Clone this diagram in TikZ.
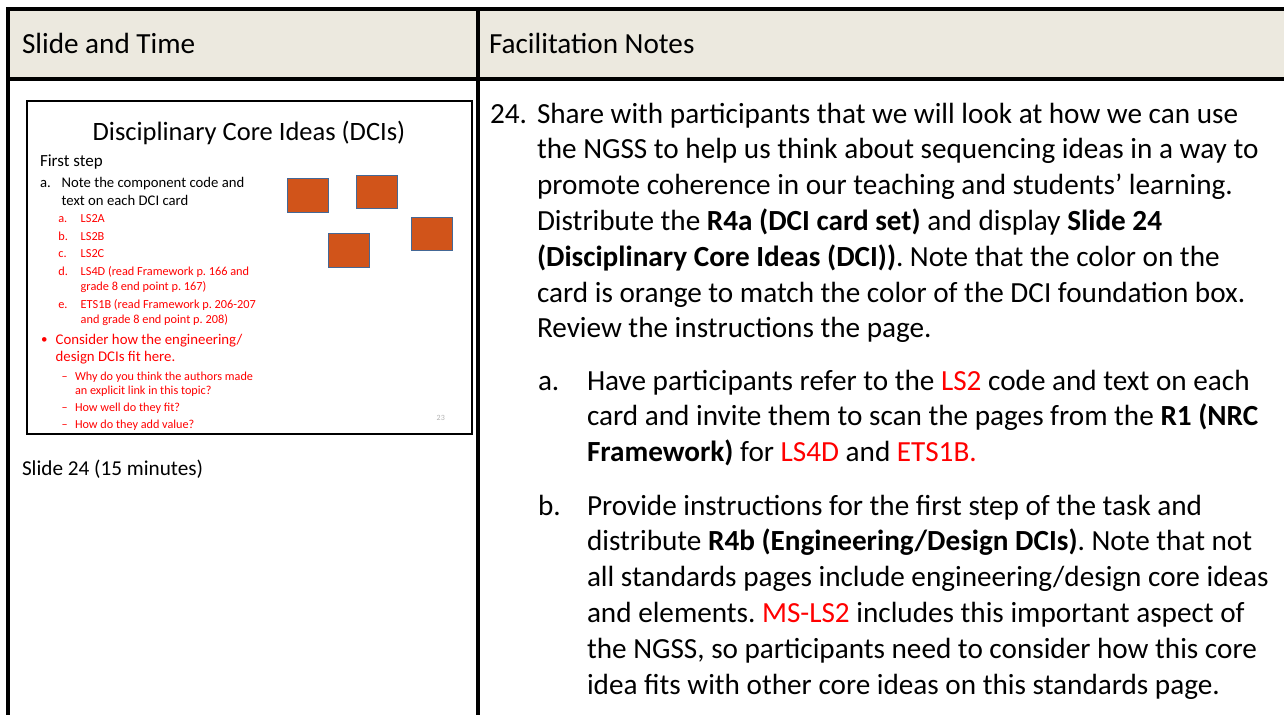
\documentclass[tikz,border=0pt]{standalone}
\usepackage{fontspec}
\setmainfont{Carlito}
\frenchspacing

\definecolor{headfill}{RGB}{236,233,223}
\definecolor{cardfill}{RGB}{209,84,26}
\definecolor{cardline}{RGB}{68,104,150}
\newcommand{\fsz}[2]{\fontsize{#1}{#2}\selectfont}
\newcommand{\hl}[1]{\textcolor{red}{#1}}

\begin{document}
\begin{tikzpicture}[x=1pt,y=-1pt,
  every node/.style={inner sep=0pt,outer sep=0pt,anchor=base west},
  rule/.style={line width=3.4pt},
  body/.style={font=\fsz{29.2}{35.8},align=left},
  card/.style={draw=cardline,fill=cardfill,line width=0.8pt,minimum width=41pt,minimum height=33.5pt,anchor=center},
  redsub/.style={text=red,font=\fsz{12.3}{15},align=left},
  reddash/.style={text=red,font=\fsz{12.2}{14},align=left}]
  \useasboundingbox (0,0) rectangle (1284,715);

  % table frame
  \fill[headfill] (8,9) rectangle (1284,79);
  \draw[rule] (8,9) -- (1284,9);
  \draw[rule] (8,79) -- (1284,79);
  \draw[rule] (8,7.3) -- (8,715);
  \draw[rule] (478,9) -- (478,715);

  \node[font=\fsz{29.2}{35.8}] (hslide) at (22,53.5) {Slide and Time};
  \node[font=\fsz{29.2}{35.8}] (hnotes) at (489,53.5) {Facilitation Notes};

  % slide thumbnail (base of a multi-line node = its last line)
  \draw[line width=2pt] (27,101) rectangle (472,434);
  \node[font=\fsz{26.5}{32},anchor=base] (stitle) at (249,140.7) {Disciplinary Core Ideas (DCIs)};
  \node[font=\fsz{17}{20}] (sfirst) at (40,166) {First step};
  \node[font=\fsz{14.7}{17.7}] (sa) at (40,187.3) {a.};
  \node[font=\fsz{14.7}{17.7},align=left] (snote) at (61.7,205) {Note the component code and\\text on each DCI card};
  \foreach \lab/\txt/\yy/\yb [count=\i] in {a./LS2A/222.7/222.7, b./LS2B/240.2/240.2, c./LS2C/257.9/257.9,
      d./{LS4D (read Framework p. 166 and\\grade 8 end point p. 167)}/275.6/290.6,
      e./{ETS1B (read Framework p. 206-207\\and grade 8 end point p. 208)}/308/323}{
    \node[redsub] (rlab\i) at (58.3,\yy) {\lab};
    \node[redsub] (rtxt\i) at (80.7,\yb) {\txt};
  }
  \node[text=red,font=\fsz{13}{17.7}] (sbul) at (41,343) {•};
  \node[text=red,font=\fsz{14.8}{17.7},align=left] (scons) at (55.7,361.7) {Consider how the engineering/\\design DCIs fit here.};
  \foreach \txt/\yy/\yb [count=\i] in {{Why do you think the authors made\\an explicit link in this topic?}/380/394,
      {How well do they fit?}/411.7/411.7, {How do they add value?}/428.3/428.3}{
    \node[reddash] (dlab\i) at (61.7,\yy) {–};
    \node[reddash] (dtxt\i) at (75,\yb) {\txt};
  }
  \node[font=\fsz{8}{9},text=black!30] (snum) at (436.7,420.7) {23};
  \foreach \n/\x/\y in {1/307.5/195.5, 2/376.5/192, 3/431.5/234, 4/348.5/250.5}
    \node[card] (card\n) at (\x,\y) {};

  \node[font=\fsz{21.2}{26}] (stime) at (22,475) {Slide 24 (15 minutes)};

  % facilitation notes
  \node[body] (n24) at (490,123) {24.};
  \node[body] (p24) at (537,337.8) {Share with participants that we will look at how we can use\\
    the NGSS to help us think about sequencing ideas in a way to\\
    promote coherence in our teaching and students’ learning.\\
    Distribute the \textbf{R4a (DCI card set)} and display \textbf{Slide 24}\\
    \textbf{(Disciplinary Core Ideas (DCI))}. Note that the color on the\\
    card is orange to match the color of the DCI foundation box.\\
    Review the instructions the page.};

  \node[body] (na) at (538,390) {a.};
  \node[body] (pa) at (587,461.6) {Have participants refer to the \hl{LS2} code and text on each\\
    card and invite them to scan the pages from the \textbf{R1 (NRC}\\
    \textbf{Framework)} for \hl{LS4D} and \hl{ETS1B.}};

  \node[body] (nb) at (538,515) {b.};
  \node[body] (pb) at (587,694) {Provide instructions for the first step of the task and\\
    distribute \textbf{R4b (Engineering/Design DCIs)}. Note that not\\
    all standards pages include engineering/design core ideas\\
    and elements. \hl{MS-LS2} includes this important aspect of\\
    the NGSS, so participants need to consider how this core\\
    idea fits with other core ideas on this standards page.};
\end{tikzpicture}
\end{document}
